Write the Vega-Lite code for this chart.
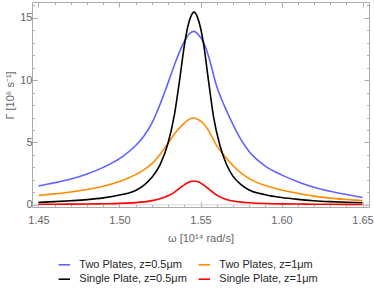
{
  "$schema": "https://vega.github.io/schema/vega-lite/v6.json",
  "width": 337,
  "height": 205,
  "autosize": {"type": "none"},
  "padding": {"left": 32, "top": 2, "right": 5, "bottom": 81},
  "config": {
    "font": "Liberation Sans",
    "view": {"stroke": "#ababab", "strokeWidth": 1},
    "axis": {
      "domain": false,
      "grid": false,
      "tickColor": "#ababab",
      "tickWidth": 1,
      "labelColor": "#666666",
      "labelFontSize": 11,
      "titleColor": "#666666",
      "titleFontSize": 11,
      "titleFontWeight": "normal",
      "labelOverlap": false,
      "labelFlush": false,
      "labelBound": false
    }
  },
  "data": {
    "values": [
      {"series": "Two Plates, z=0.5μm", "omega": 1.45, "gamma": 1.51},
      {"series": "Two Plates, z=0.5μm", "omega": 1.46, "gamma": 1.76},
      {"series": "Two Plates, z=0.5μm", "omega": 1.47, "gamma": 2.06},
      {"series": "Two Plates, z=0.5μm", "omega": 1.48, "gamma": 2.47},
      {"series": "Two Plates, z=0.5μm", "omega": 1.49, "gamma": 3.0},
      {"series": "Two Plates, z=0.5μm", "omega": 1.5, "gamma": 3.7},
      {"series": "Two Plates, z=0.5μm", "omega": 1.51, "gamma": 4.75},
      {"series": "Two Plates, z=0.5μm", "omega": 1.515, "gamma": 5.5},
      {"series": "Two Plates, z=0.5μm", "omega": 1.52, "gamma": 6.55},
      {"series": "Two Plates, z=0.5μm", "omega": 1.525, "gamma": 8.05},
      {"series": "Two Plates, z=0.5μm", "omega": 1.53, "gamma": 9.8},
      {"series": "Two Plates, z=0.5μm", "omega": 1.535, "gamma": 11.6},
      {"series": "Two Plates, z=0.5μm", "omega": 1.54, "gamma": 13.1},
      {"series": "Two Plates, z=0.5μm", "omega": 1.543, "gamma": 13.7},
      {"series": "Two Plates, z=0.5μm", "omega": 1.546, "gamma": 13.91},
      {"series": "Two Plates, z=0.5μm", "omega": 1.549, "gamma": 13.6},
      {"series": "Two Plates, z=0.5μm", "omega": 1.552, "gamma": 13.0},
      {"series": "Two Plates, z=0.5μm", "omega": 1.555, "gamma": 11.9},
      {"series": "Two Plates, z=0.5μm", "omega": 1.56, "gamma": 9.5},
      {"series": "Two Plates, z=0.5μm", "omega": 1.565, "gamma": 7.85},
      {"series": "Two Plates, z=0.5μm", "omega": 1.57, "gamma": 6.45},
      {"series": "Two Plates, z=0.5μm", "omega": 1.575, "gamma": 5.22},
      {"series": "Two Plates, z=0.5μm", "omega": 1.58, "gamma": 4.27},
      {"series": "Two Plates, z=0.5μm", "omega": 1.59, "gamma": 3.1},
      {"series": "Two Plates, z=0.5μm", "omega": 1.6, "gamma": 2.4},
      {"series": "Two Plates, z=0.5μm", "omega": 1.61, "gamma": 1.85},
      {"series": "Two Plates, z=0.5μm", "omega": 1.62, "gamma": 1.4},
      {"series": "Two Plates, z=0.5μm", "omega": 1.63, "gamma": 1.08},
      {"series": "Two Plates, z=0.5μm", "omega": 1.64, "gamma": 0.82},
      {"series": "Two Plates, z=0.5μm", "omega": 1.65, "gamma": 0.58},

      {"series": "Two Plates, z=1μm", "omega": 1.45, "gamma": 0.74},
      {"series": "Two Plates, z=1μm", "omega": 1.46, "gamma": 0.87},
      {"series": "Two Plates, z=1μm", "omega": 1.47, "gamma": 1.02},
      {"series": "Two Plates, z=1μm", "omega": 1.48, "gamma": 1.22},
      {"series": "Two Plates, z=1μm", "omega": 1.49, "gamma": 1.48},
      {"series": "Two Plates, z=1μm", "omega": 1.5, "gamma": 1.86},
      {"series": "Two Plates, z=1μm", "omega": 1.51, "gamma": 2.42},
      {"series": "Two Plates, z=1μm", "omega": 1.515, "gamma": 2.8},
      {"series": "Two Plates, z=1μm", "omega": 1.52, "gamma": 3.3},
      {"series": "Two Plates, z=1μm", "omega": 1.525, "gamma": 4.04},
      {"series": "Two Plates, z=1μm", "omega": 1.53, "gamma": 4.95},
      {"series": "Two Plates, z=1μm", "omega": 1.535, "gamma": 5.85},
      {"series": "Two Plates, z=1μm", "omega": 1.54, "gamma": 6.55},
      {"series": "Two Plates, z=1μm", "omega": 1.543, "gamma": 6.85},
      {"series": "Two Plates, z=1μm", "omega": 1.546, "gamma": 6.96},
      {"series": "Two Plates, z=1μm", "omega": 1.549, "gamma": 6.8},
      {"series": "Two Plates, z=1μm", "omega": 1.552, "gamma": 6.5},
      {"series": "Two Plates, z=1μm", "omega": 1.555, "gamma": 5.95},
      {"series": "Two Plates, z=1μm", "omega": 1.56, "gamma": 4.75},
      {"series": "Two Plates, z=1μm", "omega": 1.565, "gamma": 3.9},
      {"series": "Two Plates, z=1μm", "omega": 1.57, "gamma": 3.15},
      {"series": "Two Plates, z=1μm", "omega": 1.575, "gamma": 2.55},
      {"series": "Two Plates, z=1μm", "omega": 1.58, "gamma": 2.1},
      {"series": "Two Plates, z=1μm", "omega": 1.59, "gamma": 1.54},
      {"series": "Two Plates, z=1μm", "omega": 1.6, "gamma": 1.19},
      {"series": "Two Plates, z=1μm", "omega": 1.61, "gamma": 0.92},
      {"series": "Two Plates, z=1μm", "omega": 1.62, "gamma": 0.69},
      {"series": "Two Plates, z=1μm", "omega": 1.63, "gamma": 0.53},
      {"series": "Two Plates, z=1μm", "omega": 1.64, "gamma": 0.42},
      {"series": "Two Plates, z=1μm", "omega": 1.65, "gamma": 0.33},

      {"series": "Single Plate, z=0.5μm", "omega": 1.45, "gamma": 0.19},
      {"series": "Single Plate, z=0.5μm", "omega": 1.46, "gamma": 0.25},
      {"series": "Single Plate, z=0.5μm", "omega": 1.47, "gamma": 0.32},
      {"series": "Single Plate, z=0.5μm", "omega": 1.48, "gamma": 0.41},
      {"series": "Single Plate, z=0.5μm", "omega": 1.49, "gamma": 0.55},
      {"series": "Single Plate, z=0.5μm", "omega": 1.5, "gamma": 0.78},
      {"series": "Single Plate, z=0.5μm", "omega": 1.51, "gamma": 1.15},
      {"series": "Single Plate, z=0.5μm", "omega": 1.515, "gamma": 1.55},
      {"series": "Single Plate, z=0.5μm", "omega": 1.52, "gamma": 2.2},
      {"series": "Single Plate, z=0.5μm", "omega": 1.525, "gamma": 3.2},
      {"series": "Single Plate, z=0.5μm", "omega": 1.53, "gamma": 4.95},
      {"series": "Single Plate, z=0.5μm", "omega": 1.534, "gamma": 7.3},
      {"series": "Single Plate, z=0.5μm", "omega": 1.537, "gamma": 9.9},
      {"series": "Single Plate, z=0.5μm", "omega": 1.54, "gamma": 12.75},
      {"series": "Single Plate, z=0.5μm", "omega": 1.542, "gamma": 14.2},
      {"series": "Single Plate, z=0.5μm", "omega": 1.544, "gamma": 15.1},
      {"series": "Single Plate, z=0.5μm", "omega": 1.546, "gamma": 15.46},
      {"series": "Single Plate, z=0.5μm", "omega": 1.548, "gamma": 15.1},
      {"series": "Single Plate, z=0.5μm", "omega": 1.55, "gamma": 14.2},
      {"series": "Single Plate, z=0.5μm", "omega": 1.552, "gamma": 12.8},
      {"series": "Single Plate, z=0.5μm", "omega": 1.555, "gamma": 9.9},
      {"series": "Single Plate, z=0.5μm", "omega": 1.558, "gamma": 7.1},
      {"series": "Single Plate, z=0.5μm", "omega": 1.562, "gamma": 4.75},
      {"series": "Single Plate, z=0.5μm", "omega": 1.566, "gamma": 3.25},
      {"series": "Single Plate, z=0.5μm", "omega": 1.57, "gamma": 2.3},
      {"series": "Single Plate, z=0.5μm", "omega": 1.575, "gamma": 1.62},
      {"series": "Single Plate, z=0.5μm", "omega": 1.58, "gamma": 1.19},
      {"series": "Single Plate, z=0.5μm", "omega": 1.59, "gamma": 0.81},
      {"series": "Single Plate, z=0.5μm", "omega": 1.6, "gamma": 0.58},
      {"series": "Single Plate, z=0.5μm", "omega": 1.61, "gamma": 0.43},
      {"series": "Single Plate, z=0.5μm", "omega": 1.62, "gamma": 0.32},
      {"series": "Single Plate, z=0.5μm", "omega": 1.63, "gamma": 0.25},
      {"series": "Single Plate, z=0.5μm", "omega": 1.64, "gamma": 0.2},
      {"series": "Single Plate, z=0.5μm", "omega": 1.65, "gamma": 0.16},

      {"series": "Single Plate, z=1μm", "omega": 1.45, "gamma": 0.035},
      {"series": "Single Plate, z=1μm", "omega": 1.46, "gamma": 0.04},
      {"series": "Single Plate, z=1μm", "omega": 1.47, "gamma": 0.05},
      {"series": "Single Plate, z=1μm", "omega": 1.48, "gamma": 0.06},
      {"series": "Single Plate, z=1μm", "omega": 1.49, "gamma": 0.08},
      {"series": "Single Plate, z=1μm", "omega": 1.5, "gamma": 0.11},
      {"series": "Single Plate, z=1μm", "omega": 1.51, "gamma": 0.17},
      {"series": "Single Plate, z=1μm", "omega": 1.515, "gamma": 0.23},
      {"series": "Single Plate, z=1μm", "omega": 1.52, "gamma": 0.33},
      {"series": "Single Plate, z=1μm", "omega": 1.525, "gamma": 0.48},
      {"series": "Single Plate, z=1μm", "omega": 1.53, "gamma": 0.72},
      {"series": "Single Plate, z=1μm", "omega": 1.534, "gamma": 1.02},
      {"series": "Single Plate, z=1μm", "omega": 1.537, "gamma": 1.32},
      {"series": "Single Plate, z=1μm", "omega": 1.54, "gamma": 1.6},
      {"series": "Single Plate, z=1μm", "omega": 1.542, "gamma": 1.76},
      {"series": "Single Plate, z=1μm", "omega": 1.544, "gamma": 1.87},
      {"series": "Single Plate, z=1μm", "omega": 1.546, "gamma": 1.91},
      {"series": "Single Plate, z=1μm", "omega": 1.548, "gamma": 1.87},
      {"series": "Single Plate, z=1μm", "omega": 1.55, "gamma": 1.76},
      {"series": "Single Plate, z=1μm", "omega": 1.552, "gamma": 1.58},
      {"series": "Single Plate, z=1μm", "omega": 1.555, "gamma": 1.28},
      {"series": "Single Plate, z=1μm", "omega": 1.558, "gamma": 0.96},
      {"series": "Single Plate, z=1μm", "omega": 1.562, "gamma": 0.63},
      {"series": "Single Plate, z=1μm", "omega": 1.566, "gamma": 0.42},
      {"series": "Single Plate, z=1μm", "omega": 1.57, "gamma": 0.3},
      {"series": "Single Plate, z=1μm", "omega": 1.575, "gamma": 0.21},
      {"series": "Single Plate, z=1μm", "omega": 1.58, "gamma": 0.16},
      {"series": "Single Plate, z=1μm", "omega": 1.59, "gamma": 0.1},
      {"series": "Single Plate, z=1μm", "omega": 1.6, "gamma": 0.07},
      {"series": "Single Plate, z=1μm", "omega": 1.61, "gamma": 0.055},
      {"series": "Single Plate, z=1μm", "omega": 1.62, "gamma": 0.045},
      {"series": "Single Plate, z=1μm", "omega": 1.63, "gamma": 0.035},
      {"series": "Single Plate, z=1μm", "omega": 1.64, "gamma": 0.03},
      {"series": "Single Plate, z=1μm", "omega": 1.65, "gamma": 0.025}
    ]
  },
  "layer": [
    {
      "data": {"values": [{"axisLine": 0}]},
      "mark": {"type": "rule", "color": "#d6d6d6", "strokeWidth": 1.2},
      "encoding": {
        "y": {
          "field": "axisLine",
          "type": "quantitative",
          "axis": {
            "orient": "right",
            "labels": false,
            "title": null,
            "values": [0,1,2,3,4,5,6,7,8,9,10,11,12,13,14,15,16],
            "tickSize": {"condition": {"test": "datum.value % 5 === 0", "value": -5}, "value": -2.5}
          }
        },
        "x": {
          "datum": 1.446,
          "type": "quantitative",
          "axis": {
            "orient": "top",
            "labels": false,
            "title": null,
            "values": [1.45,1.46,1.47,1.48,1.49,1.5,1.51,1.52,1.53,1.54,1.55,1.56,1.57,1.58,1.59,1.6,1.61,1.62,1.63,1.64,1.65],
            "tickSize": {"condition": {"test": "round(datum.value*100) % 5 === 0", "value": -5}, "value": -2.5}
          }
        },
        "x2": {"datum": 1.654}
      }
    },
    {
      "mark": {"type": "line", "strokeWidth": 1.6, "interpolate": "monotone"},
      "encoding": {
        "x": {
          "field": "omega",
          "type": "quantitative",
          "scale": {"domain": [1.446, 1.654], "nice": false, "zero": false},
          "axis": {
            "orient": "bottom",
            "title": "ω [10¹⁴ rad/s]",
            "values": [1.45,1.46,1.47,1.48,1.49,1.5,1.51,1.52,1.53,1.54,1.55,1.56,1.57,1.58,1.59,1.6,1.61,1.62,1.63,1.64,1.65],
            "labelExpr": "round(datum.value*100) % 5 === 0 ? format(datum.value, '.2f') : ''",
            "tickSize": {"condition": {"test": "round(datum.value*100) % 5 === 0", "value": -5}, "value": -2.5},
            "labelPadding": 12,
            "titlePadding": 5
          }
        },
        "y": {
          "field": "gamma",
          "type": "quantitative",
          "scale": {"domain": [-0.18, 16.27], "nice": false, "zero": false},
          "axis": {
            "orient": "left",
            "title": "Γ [10⁶ s⁻¹]",
            "values": [0,1,2,3,4,5,6,7,8,9,10,11,12,13,14,15,16],
            "labelExpr": "datum.value % 5 === 0 ? datum.label : ''",
            "tickSize": {"condition": {"test": "datum.value % 5 === 0", "value": -5}, "value": -2.5},
            "labelPadding": 5,
            "titleY": 93
          }
        },
        "color": {
          "field": "series",
          "type": "nominal",
          "scale": {
            "domain": ["Two Plates, z=0.5μm", "Two Plates, z=1μm", "Single Plate, z=0.5μm", "Single Plate, z=1μm"],
            "range": ["#6262ff", "#ff8c00", "#000000", "#ff0000"]
          },
          "legend": {
            "orient": "none",
            "legendX": 25.3,
            "legendY": 255.8,
            "direction": "horizontal",
            "columns": 2,
            "gridAlign": "none",
            "columnPadding": 8,
            "rowPadding": 2.4,
            "padding": 0,
            "title": null,
            "symbolType": "stroke",
            "symbolSize": 130,
            "symbolStrokeWidth": 1.6,
            "labelOffset": 8,
            "labelFontSize": 11,
            "labelColor": "#262626",
            "labelLimit": 300
          }
        }
      }
    }
  ],
  "resolve": {"axis": {"x": "independent", "y": "independent"}}
}
